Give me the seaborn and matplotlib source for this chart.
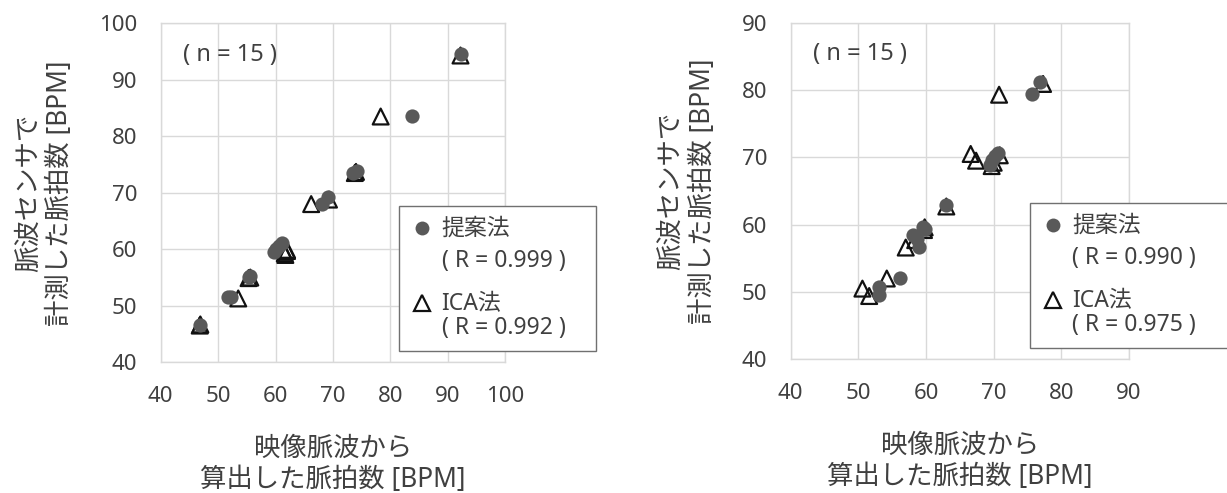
import matplotlib
matplotlib.use("Agg")
import matplotlib.pyplot as plt
from matplotlib.patches import Rectangle
from matplotlib.lines import Line2D
import pandas as pd
import seaborn as sns

# Pulse rate measured by the sensor vs. pulse rate computed from video (BPM)
a_prop_x = [92.3, 83.7, 73.5, 74.2, 68.0, 69.2, 59.7, 60.1, 60.6, 61.1, 55.3, 55.6, 51.7, 52.2, 46.8]
a_prop_y = [94.5, 83.6, 73.5, 73.9, 68.1, 69.2, 59.5, 60.0, 60.6, 61.2, 55.1, 55.3, 51.5, 51.6, 46.6]
a_ica_x = [92.2, 78.3, 73.8, 74.0, 66.2, 69.3, 61.7, 62.0, 61.6, 62.0, 55.3, 55.6, 53.5, 46.8, 46.9]
a_ica_y = [94.3, 83.5, 73.5, 73.7, 68.0, 68.8, 59.0, 59.9, 59.3, 59.7, 54.9, 55.0, 51.3, 46.5, 46.7]

b_prop_x = [76.8, 75.7, 70.7, 70.2, 69.7, 69.4, 63.0, 59.6, 59.8, 58.1, 58.6, 58.9, 56.2, 53.1, 53.1]
b_prop_y = [81.2, 79.4, 70.7, 70.2, 69.6, 68.9, 62.9, 59.7, 59.3, 58.5, 57.8, 56.7, 52.1, 50.7, 49.5]
b_ica_x = [77.3, 70.8, 66.6, 67.4, 69.7, 70.9, 63.0, 59.7, 58.4, 57.0, 54.2, 50.6, 51.6, 70.0, 59.8]
b_ica_y = [80.9, 79.3, 70.5, 69.5, 68.7, 70.3, 62.7, 59.2, 57.7, 56.6, 52.0, 50.5, 49.4, 69.2, 59.6]

a_ticks = [40, 50, 60, 70, 80, 90, 100]
b_ticks = [40, 50, 60, 70, 80, 90]
a_r = ["0.999", "0.992"]
b_r = ["0.990", "0.975"]
n_label = "( n = 15 )"
method_names = ["提案法", "ICA法"]
xlabel = "映像脈波から\n算出した脈拍数 [BPM]"
ylabel = "脈波センサで\n計測した脈拍数 [BPM]"

sns.set_theme(style="white")
plt.rcParams["font.family"] = ["Noto Sans", "Noto Sans CJK JP", "DejaVu Sans"]

W, H = 1227, 493
fig = plt.figure(figsize=(W / 100, H / 100), dpi=100)


def fx(px):
    return px / W


def fy(py):
    return 1 - py / H


TEXT = "#404040"
GRID = "#d9d9d9"
DOT = "#595959"


def panel(rect, px, py, ix, iy, ticks, rvals, lbox):
    ax = fig.add_axes(rect)
    ica = pd.DataFrame({"x": ix, "y": iy})
    prop = pd.DataFrame({"x": px, "y": py})
    sns.scatterplot(data=ica, x="x", y="y", ax=ax, marker="^", s=130,
                    facecolors="none", edgecolor="#111111", linewidth=1.6,
                    zorder=3, legend=False)
    sns.scatterplot(data=prop, x="x", y="y", ax=ax, marker="o", s=105,
                    color=DOT, edgecolor=DOT, linewidth=0, zorder=4,
                    legend=False)
    ax.set_xlim(ticks[0], ticks[-1])
    ax.set_ylim(ticks[0], ticks[-1])
    ax.set_xticks(ticks)
    ax.set_yticks(ticks)
    ax.grid(True, color=GRID, linewidth=1.0)
    ax.set_axisbelow(True)
    for s in ax.spines.values():
        s.set_color(GRID)
        s.set_linewidth(1.0)
    ax.tick_params(axis="both", length=0, labelsize=16, labelcolor=TEXT)
    ax.tick_params(axis="x", pad=17)
    ax.tick_params(axis="y", pad=17)
    ax.set_xlabel(xlabel, fontsize=19, color=TEXT, labelpad=20, linespacing=1.15)
    ax.set_ylabel(ylabel, fontsize=19, color=TEXT, labelpad=18, linespacing=1.15)
    ax.text(0.066, 0.906, n_label, transform=ax.transAxes, fontsize=17,
            color=TEXT, va="center", ha="left")

    # legend box
    x0, y0, x1, y1 = lbox
    fig.add_artist(Rectangle((fx(x0), fy(y1)), fx(x1) - fx(x0), fy(y0) - fy(y1),
                             transform=fig.transFigure, facecolor="white",
                             edgecolor="#707070", linewidth=1.0, zorder=10))
    mx = x0 + 23
    tx = x0 + 43
    fig.add_artist(Line2D([fx(mx)], [fy(y0 + 22)], marker="o", markersize=10,
                          color=DOT, markeredgewidth=0, transform=fig.transFigure,
                          zorder=11))
    fig.add_artist(Line2D([fx(mx)], [fy(y0 + 97)], marker="^", markersize=12,
                          markerfacecolor="none", markeredgecolor="#111111",
                          markeredgewidth=1.6, transform=fig.transFigure,
                          zorder=11))
    lines = [(method_names[0], 23), (f"( R = {rvals[0]} )", 55),
             (method_names[1], 98), (f"( R = {rvals[1]} )", 122)]
    for txt, dy in lines:
        fig.text(fx(tx), fy(y0 + dy), txt, fontsize=16.5, color=TEXT,
                 va="center", ha="left", zorder=12)
    return ax


panel([fx(160.7), fy(362.3), fx(505.3) - fx(160.7), fy(23.3) - fy(362.3)],
      a_prop_x, a_prop_y, a_ica_x, a_ica_y, a_ticks, a_r,
      (398.5, 206, 595.5, 350.5))
panel([fx(790.7), fy(359.3), fx(1129) - fx(790.7), fy(22.7) - fy(359.3)],
      b_prop_x, b_prop_y, b_ica_x, b_ica_y, b_ticks, b_r,
      (1029.5, 203, 1240, 347.5))

fig.savefig("out.png", dpi=100, facecolor="white")
